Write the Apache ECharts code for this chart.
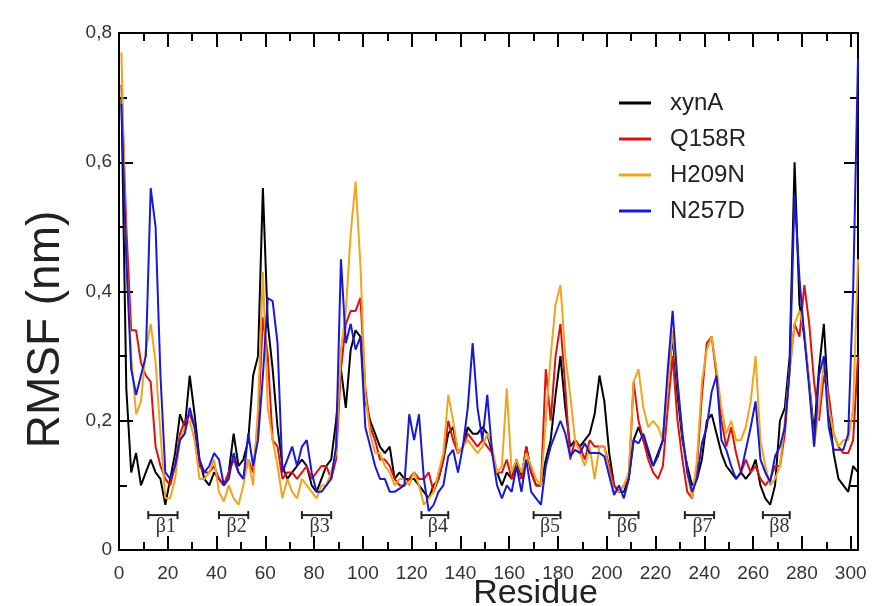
<!DOCTYPE html>
<html>
<head>
<meta charset="utf-8">
<script src="https://cdn.jsdelivr.net/npm/echarts@6/dist/echarts.min.js"></script>
<style>
  html, body { margin: 0; padding: 0; background: #fff; }
  #chart { width: 872px; height: 606px; }
</style>
</head>
<body>
<div id="chart"></div>
<script>
// residue numbers sampled every 2nd residue (1..303)
const residues = Array.from({ length: 152 }, (_, i) => 2 * i + 1);

const xynA = [
  0.70,0.25,0.12,0.15,0.10,0.12,0.14,0.12,0.11,0.07,
  0.11,0.15,0.21,0.19,0.27,0.21,0.14,0.11,0.10,0.12,
  0.11,0.10,0.12,0.18,0.13,0.14,0.17,0.27,0.30,0.56,
  0.35,0.28,0.19,0.13,0.11,0.12,0.13,0.14,0.13,0.10,
  0.09,0.11,0.13,0.14,0.20,0.28,0.22,0.31,0.34,0.33,
  0.23,0.20,0.18,0.16,0.15,0.16,0.11,0.12,0.11,0.11,
  0.11,0.10,0.09,0.08,0.10,0.11,0.14,0.18,0.19,0.15,
  0.16,0.19,0.18,0.18,0.19,0.18,0.15,0.12,0.10,0.12,
  0.11,0.14,0.11,0.16,0.12,0.10,0.10,0.14,0.17,0.24,
  0.30,0.22,0.16,0.17,0.16,0.17,0.18,0.21,0.27,0.23,
  0.15,0.10,0.09,0.09,0.11,0.17,0.19,0.17,0.15,0.13,
  0.15,0.17,0.26,0.33,0.24,0.17,0.13,0.10,0.11,0.14,
  0.20,0.21,0.18,0.15,0.13,0.12,0.11,0.12,0.11,0.12,
  0.14,0.10,0.08,0.07,0.10,0.20,0.22,0.30,0.60,0.38,
  0.33,0.26,0.18,0.28,0.35,0.22,0.15,0.11,0.10,0.09,
  0.13,0.12
];
const q158r = [
  0.72,0.50,0.34,0.34,0.29,0.27,0.26,0.16,0.13,0.11,
  0.10,0.13,0.18,0.20,0.21,0.19,0.13,0.12,0.12,0.13,
  0.11,0.10,0.12,0.14,0.12,0.11,0.14,0.12,0.20,0.36,
  0.30,0.17,0.16,0.11,0.12,0.12,0.11,0.12,0.13,0.11,
  0.12,0.13,0.13,0.11,0.14,0.28,0.35,0.37,0.37,0.39,
  0.25,0.19,0.17,0.14,0.14,0.13,0.11,0.10,0.10,0.11,
  0.12,0.11,0.11,0.12,0.09,0.11,0.14,0.20,0.17,0.15,
  0.16,0.18,0.17,0.16,0.17,0.16,0.15,0.12,0.12,0.14,
  0.11,0.13,0.11,0.16,0.12,0.10,0.10,0.28,0.20,0.30,
  0.35,0.25,0.14,0.17,0.16,0.14,0.17,0.16,0.16,0.16,
  0.13,0.10,0.09,0.10,0.11,0.26,0.20,0.17,0.14,0.12,
  0.11,0.13,0.22,0.30,0.20,0.14,0.09,0.08,0.13,0.24,
  0.32,0.33,0.27,0.20,0.16,0.19,0.15,0.12,0.14,0.12,
  0.13,0.11,0.10,0.11,0.13,0.13,0.18,0.28,0.35,0.33,
  0.41,0.35,0.26,0.20,0.27,0.24,0.18,0.16,0.15,0.15,
  0.17,0.30
];
const h209n = [
  0.77,0.45,0.30,0.21,0.23,0.31,0.35,0.29,0.18,0.08,
  0.08,0.11,0.17,0.19,0.20,0.17,0.11,0.11,0.12,0.14,
  0.09,0.075,0.10,0.08,0.07,0.10,0.14,0.10,0.22,0.43,
  0.22,0.17,0.13,0.08,0.11,0.09,0.08,0.11,0.10,0.09,
  0.08,0.10,0.10,0.12,0.15,0.31,0.37,0.49,0.57,0.44,
  0.24,0.18,0.15,0.15,0.13,0.12,0.10,0.11,0.11,0.10,
  0.12,0.10,0.07,0.08,0.09,0.12,0.15,0.24,0.20,0.15,
  0.16,0.17,0.16,0.15,0.16,0.18,0.16,0.12,0.13,0.25,
  0.12,0.14,0.12,0.15,0.13,0.11,0.10,0.20,0.30,0.38,
  0.41,0.30,0.24,0.17,0.15,0.13,0.16,0.11,0.16,0.16,
  0.12,0.09,0.09,0.10,0.12,0.26,0.28,0.22,0.19,0.20,
  0.19,0.17,0.25,0.34,0.26,0.18,0.12,0.08,0.14,0.26,
  0.31,0.33,0.28,0.22,0.18,0.20,0.17,0.17,0.19,0.23,
  0.30,0.17,0.13,0.10,0.11,0.13,0.20,0.28,0.35,0.37,
  0.34,0.26,0.16,0.22,0.29,0.22,0.18,0.16,0.17,0.17,
  0.22,0.45
];
const n257d = [
  0.69,0.45,0.28,0.24,0.27,0.30,0.56,0.50,0.27,0.12,
  0.11,0.13,0.17,0.18,0.22,0.19,0.14,0.12,0.13,0.15,
  0.14,0.10,0.11,0.15,0.12,0.11,0.18,0.13,0.17,0.27,
  0.39,0.385,0.32,0.12,0.14,0.16,0.13,0.16,0.17,0.12,
  0.09,0.09,0.10,0.11,0.16,0.45,0.32,0.35,0.31,0.33,
  0.19,0.16,0.13,0.11,0.11,0.09,0.09,0.095,0.10,0.21,
  0.17,0.21,0.11,0.06,0.07,0.09,0.10,0.145,0.155,0.12,
  0.16,0.22,0.32,0.22,0.17,0.24,0.15,0.10,0.08,0.10,
  0.09,0.13,0.09,0.14,0.09,0.08,0.07,0.13,0.16,0.18,
  0.20,0.18,0.145,0.155,0.15,0.165,0.15,0.15,0.15,0.145,
  0.115,0.085,0.10,0.08,0.11,0.17,0.165,0.18,0.155,0.13,
  0.145,0.17,0.28,0.37,0.26,0.18,0.12,0.09,0.11,0.165,
  0.19,0.245,0.27,0.17,0.155,0.13,0.11,0.12,0.155,0.19,
  0.23,0.14,0.12,0.105,0.145,0.16,0.19,0.28,0.55,0.42,
  0.33,0.25,0.16,0.27,0.30,0.19,0.155,0.155,0.155,0.18,
  0.40,0.76
];

// beta strands (residue ranges)
const strandNames = ['β1', 'β2', 'β3', 'β4', 'β5', 'β6', 'β7', 'β8'];
const strandStart = [12, 41, 75, 124, 170, 201, 232, 264];
const strandEnd = [24, 53, 87, 135, 181, 213, 244, 275];

const xTicks = [0, 20, 40, 60, 80, 100, 120, 140, 160, 180, 200, 220, 240, 260, 280, 300];

const FONT = '"Liberation Sans", Arial, sans-serif';
const STRAND_Y = 0.054;

const chart = echarts.init(document.getElementById('chart'));

function pairs(vals) {
  return residues.map((r, i) => [r, vals[i]]);
}

function lineSeries(name, vals, color) {
  return {
    name, type: 'line', data: pairs(vals),
    symbol: 'none', lineStyle: { color, width: 2 }, itemStyle: { color },
    animation: false, silent: true
  };
}

const axisCommon = {
  type: 'value',
  axisLine: { show: true, onZero: false, lineStyle: { color: '#000', width: 2 } },
  axisTick: { show: true, inside: true, length: 14, lineStyle: { color: '#000', width: 2 } },
  minorTick: { show: true, splitNumber: 2, length: 8, lineStyle: { color: '#000', width: 2 } },
  splitLine: { show: false }
};

chart.setOption({
  backgroundColor: '#fff',
  animation: false,
  grid: { left: 119, right: 14, top: 33, bottom: 56, outerBoundsMode: 'none' },
  legend: {
    data: ['xynA', 'Q158R', 'H209N', 'N257D'],
    orient: 'vertical', left: 614, top: 86,
    icon: 'rect', itemWidth: 32, itemHeight: 3, itemGap: 12,
    textStyle: { fontFamily: FONT, fontSize: 24, lineHeight: 24, color: '#222', padding: [0, 0, 0, 14] }
  },
  xAxis: [
    Object.assign({}, axisCommon, {
      min: 0, max: 303, interval: 20,
      name: 'Residue', nameLocation: 'middle', nameGap: 27, nameMoveOverlap: false,
      nameTextStyle: { fontFamily: FONT, fontSize: 34, color: '#222', padding: [0, 0, 0, 94] },
      axisLabel: {
        fontFamily: FONT, fontSize: 19, color: '#333', margin: 14, showMaxLabel: false,
        formatter: v => xTicks.includes(v) ? String(v) : ''
      }
    }),
    Object.assign({}, axisCommon, {
      position: 'top', min: 0, max: 303, interval: 20, axisLabel: { show: false }
    })
  ],
  yAxis: [
    Object.assign({}, axisCommon, {
      min: 0, max: 0.8, interval: 0.2,
      name: 'RMSF (nm)', nameLocation: 'middle', nameGap: 50, nameMoveOverlap: false,
      nameTextStyle: { fontFamily: FONT, fontSize: 46, color: '#222', padding: [0, 76, 0, 0] },
      axisLabel: {
        fontFamily: FONT, fontSize: 19, color: '#333', margin: 7,
        formatter: v => v === 0 ? '0' : v.toFixed(1).replace('.', ',')
      }
    }),
    Object.assign({}, axisCommon, {
      position: 'right', min: 0, max: 0.8, interval: 0.2, axisLabel: { show: false }
    })
  ],
  series: [
    lineSeries('xynA', xynA, '#000000'),
    lineSeries('Q158R', q158r, '#e01010'),
    lineSeries('H209N', h209n, '#f2a41c'),
    lineSeries('N257D', n257d, '#1818d8'),
    {
      type: 'custom', silent: true, animation: false, z: 5,
      data: strandNames.map((n, i) => [strandStart[i], strandEnd[i]]),
      renderItem(params, api) {
        const p1 = api.coord([api.value(0), STRAND_Y]);
        const p2 = api.coord([api.value(1), STRAND_Y]);
        const st = { stroke: '#222', lineWidth: 2 };
        return {
          type: 'group',
          children: [
            { type: 'line', shape: { x1: p1[0], y1: p1[1], x2: p2[0], y2: p2[1] }, style: st },
            { type: 'line', shape: { x1: p1[0], y1: p1[1] - 4, x2: p1[0], y2: p1[1] + 4 }, style: st },
            { type: 'line', shape: { x1: p2[0], y1: p2[1] - 4, x2: p2[0], y2: p2[1] + 4 }, style: st },
            {
              type: 'text',
              style: {
                x: (p1[0] + p2[0]) / 2 + 3, y: p1[1] + 2,
                text: strandNames[params.dataIndex],
                font: '20px "Liberation Serif", "DejaVu Serif", serif',
                fill: '#333', textAlign: 'center', textVerticalAlign: 'top'
              }
            }
          ]
        };
      }
    }
  ]
});

window.addEventListener('resize', () => chart.resize());
</script>
</body>
</html>
